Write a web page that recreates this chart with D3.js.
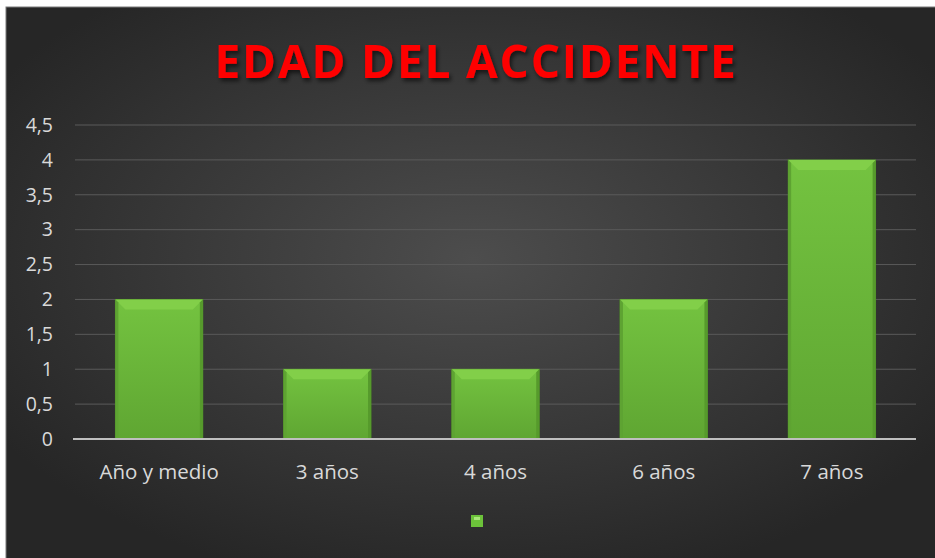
<!DOCTYPE html>
<html><head><meta charset="utf-8">
<script src="https://cdn.jsdelivr.net/npm/d3@7"></script>
<style>body{margin:0;background:#fff}svg{display:block}</style>
</head><body>
<svg id="c" width="935" height="558"></svg>
<script>
const categories = ["Año y medio", "3 años", "4 años", "6 años", "7 años"];
const values = [2, 1, 1, 2, 4];
const yTicks = [0, 0.5, 1, 1.5, 2, 2.5, 3, 3.5, 4, 4.5];
const title = "EDAD DEL ACCIDENTE";

const svg = d3.select("#c");
const defs = svg.append("defs");
const bg = defs.append("radialGradient").attr("id","bg").attr("cx","50%").attr("cy","45%").attr("r","60%");
bg.append("stop").attr("offset","0%").attr("stop-color","#4d4d4d");
bg.append("stop").attr("offset","100%").attr("stop-color","#262626");
const bar = defs.append("linearGradient").attr("id","bar").attr("x1",0).attr("y1",0).attr("x2",0).attr("y2",1);
bar.append("stop").attr("offset","0%").attr("stop-color","#74c340");
bar.append("stop").attr("offset","100%").attr("stop-color","#5fa632");
const sh = defs.append("filter").attr("id","ts").attr("x","-10%").attr("y","-30%").attr("width","120%").attr("height","160%");
sh.append("feDropShadow").attr("dx",2).attr("dy",3).attr("stdDeviation",2).attr("flood-color","#000").attr("flood-opacity",0.6);

svg.append("rect").attr("x",6).attr("y",7).attr("width",935).attr("height",560).attr("fill","url(#bg)").attr("stroke","#7a7a7a").attr("stroke-width",1);

const x = d3.scaleBand().domain(categories).range([75, 916]).paddingInner(0.48).paddingOuter(0.24);
const y = d3.scaleLinear().domain([0, 4.5]).range([439, 125]);

// grid
svg.append("g").selectAll("line").data(yTicks.filter(d=>d>0)).join("line")
  .attr("x1",75).attr("x2",916).attr("y1",d=>y(d)).attr("y2",d=>y(d))
  .attr("stroke","#5a5a5a").attr("stroke-width",1);

const yAxis = d3.axisLeft(y).tickValues(yTicks).tickSize(0).tickPadding(0)
  .tickFormat(d=>String(d).replace(".", ","));
const ga = svg.append("g").attr("transform","translate(53,0)").call(yAxis);
ga.select(".domain").remove();
ga.selectAll("text").attr("fill","#d9d9d9").attr("font-family","'Open Sans', sans-serif").attr("font-size",19.5);

// bars
const bw = x.bandwidth();
const b = 5;
const gb = svg.append("g").selectAll("g").data(values).join("g");
gb.append("rect").attr("x",(d,i)=>x(categories[i])).attr("y",d=>y(d)).attr("width",bw).attr("height",d=>y(0)-y(d))
  .attr("fill","url(#bar)").attr("stroke","#4f8f27").attr("stroke-width",0.8);
gb.append("path").attr("d",(d,i)=>{const x0=x(categories[i]),y0=y(d);return `M${x0},${y0}L${x0+bw},${y0}L${x0+bw-b*2},${y0+b*2}L${x0+b*2},${y0+b*2}Z`;})
  .attr("fill","#82cf49");
gb.append("path").attr("d",(d,i)=>{const x0=x(categories[i]),y0=y(d),y1=y(0);return `M${x0},${y0}L${x0+3},${y0+3}L${x0+3},${y1}L${x0},${y1}Z`;})
  .attr("fill","#5ea332");
gb.append("path").attr("d",(d,i)=>{const x0=x(categories[i])+bw,y0=y(d),y1=y(0);return `M${x0},${y0}L${x0-3},${y0+3}L${x0-3},${y1}L${x0},${y1}Z`;})
  .attr("fill","#569a2c");

// x axis
svg.append("line").attr("x1",73).attr("x2",916).attr("y1",y(0)).attr("y2",y(0)).attr("stroke","#bfbfbf").attr("stroke-width",2);
const xAxis = d3.axisBottom(x).tickSize(0).tickPadding(0);
const gx = svg.append("g").attr("transform",`translate(0,${y(0)+40})`).call(xAxis);
gx.select(".domain").remove();
gx.selectAll("text").attr("fill","#d9d9d9").attr("font-family","'Open Sans', sans-serif").attr("font-size",20.5).attr("dy",0);

// title
svg.append("text").attr("x",476).attr("y",78).attr("text-anchor","middle")
  .attr("font-family","'Open Sans', sans-serif").attr("font-weight",700).attr("font-size",46)
  .attr("letter-spacing",1.8).attr("fill","#ff0000").attr("filter","url(#ts)").text(title);

// legend marker
svg.append("rect").attr("x",471).attr("y",515).attr("width",12).attr("height",12).attr("fill","#6cc23a");
svg.append("rect").attr("x",474).attr("y",517).attr("width",6).attr("height",3).attr("fill","#a8e67a");
</script>
</body></html>
